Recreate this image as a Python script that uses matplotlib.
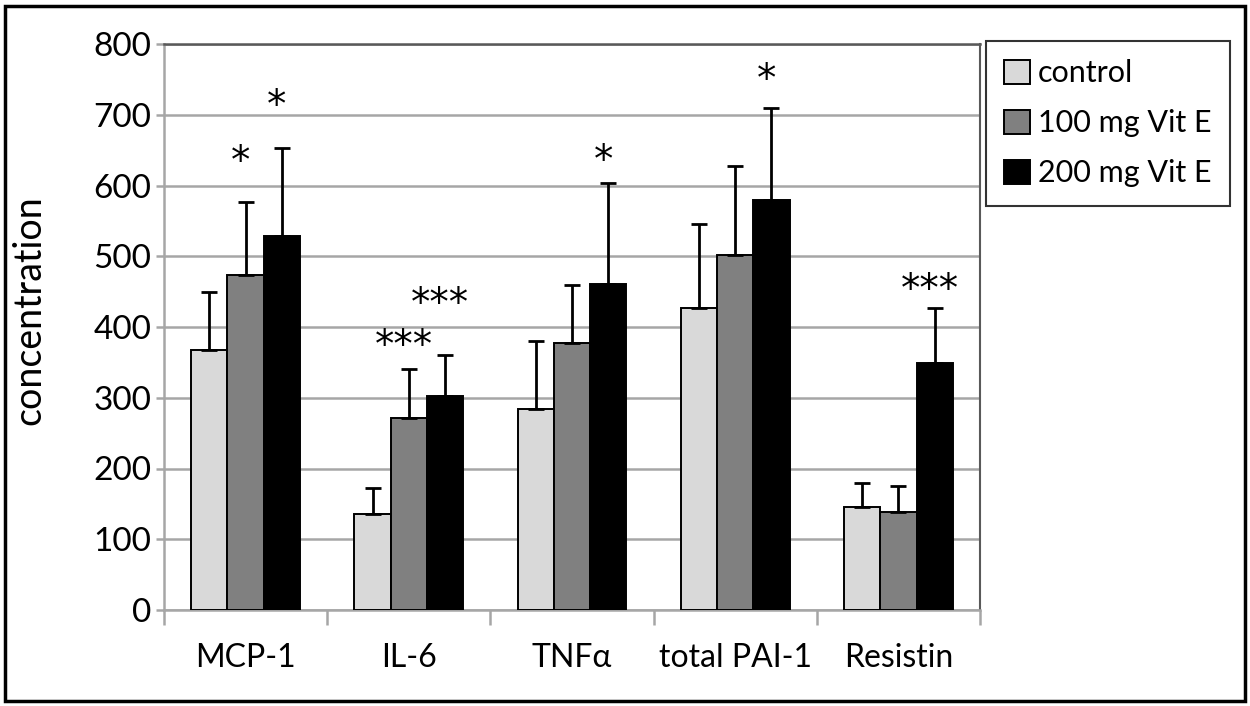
import matplotlib.pyplot as plt
import numpy as np
from matplotlib.patches import Rectangle

plt.rcParams['font.family'] = ['Lato', 'DejaVu Sans']

categories = ["MCP-1", "IL-6", "TNF\u03b1", "total PAI-1", "Resistin"]
series = ["control", "100 mg Vit E", "200 mg Vit E"]
control = [368, 136, 284, 427, 146]
vit100 = [473, 271, 378, 502, 139]
vit200 = [529, 303, 461, 579, 349]
control_top = [449, 172, 380, 546, 180]
vit100_top = [577, 341, 460, 627, 175]
vit200_top = [653, 360, 603, 710, 427]

# significance marks: (category index, series index, label, y centre)
stars = [
    (0, 1, "*", 650),
    (0, 2, "*", 730),
    (1, 1, "***", 390),
    (1, 2, "***", 450),
    (2, 2, "*", 652),
    (3, 2, "*", 766),
    (4, 2, "***", 470),
]

colors = ["#d9d9d9", "#808080", "#000000"]
values = [control, vit100, vit200]
tops = [control_top, vit100_top, vit200_top]

fig = plt.figure(figsize=(12.5, 7.06), dpi=100)
ax = fig.add_axes([164 / 1250, 1 - 610 / 706, (980 - 164) / 1250, (610 - 44) / 706])

x = np.arange(len(categories))
w = 0.222
for i, (vals, tp, c) in enumerate(zip(values, tops, colors)):
    pos = x + (i - 1) * w
    vals = np.array(vals)
    err = np.array(tp) - vals
    ax.bar(pos, vals, width=w, color=c, edgecolor="black", linewidth=1.4,
           label=series[i], zorder=3)
    ax.errorbar(pos, vals, yerr=[np.zeros_like(err), err], fmt="none",
                ecolor="black", elinewidth=2.0, capsize=5.5, capthick=2.0, zorder=4)

for ci, si, lab, yv in stars:
    ax.text(x[ci] + (si - 1) * w - 0.03, yv - 33, lab, ha="center", va="baseline",
            fontsize=28, family="DejaVu Sans", zorder=5)

ax.set_xlim(-0.5, len(categories) - 0.5)
ax.set_ylim(0, 800)
ax.set_yticks(np.arange(0, 801, 100))
ax.yaxis.grid(True, color="#a6a6a6", linewidth=1.8, zorder=0)
ax.set_axisbelow(True)

ax.set_xticks(x)
ax.set_xticklabels(categories)
ax.set_xticks(np.arange(-0.5, len(categories)), minor=True)
ax.tick_params(axis="x", which="major", length=0, labelsize=23, pad=24)
ax.tick_params(axis="x", which="minor", length=11, width=1.8, color="#a6a6a6")
ax.tick_params(axis="y", length=6, width=1.8, color="#a6a6a6", labelsize=24, pad=3)

for s in ["left", "bottom"]:
    ax.spines[s].set_color("#a6a6a6")
    ax.spines[s].set_linewidth(1.8)
ax.spines["top"].set_color("#595959")
ax.spines["top"].set_linewidth(1.8)
ax.spines["right"].set_color("#595959")
ax.spines["right"].set_linewidth(1.5)

ax.set_ylabel("concentration", fontsize=27)
ax.yaxis.set_label_coords(-0.143, 0.53)

leg = fig.legend(loc="upper left", bbox_to_anchor=(986 / 1250, 1 - 41 / 706),
                 fontsize=22, frameon=True, fancybox=False, edgecolor="black",
                 handlelength=0.85, handleheight=0.85, handletextpad=0.25,
                 labelspacing=0.72, borderpad=0.6, borderaxespad=0)
leg.get_frame().set_linewidth(1.5)

fig.patches.append(Rectangle((5 / 1250, 5 / 706), 1240 / 1250, 695 / 706,
                             transform=fig.transFigure, fill=False,
                             edgecolor="black", linewidth=2.5))

fig.savefig("out.png", dpi=100)
